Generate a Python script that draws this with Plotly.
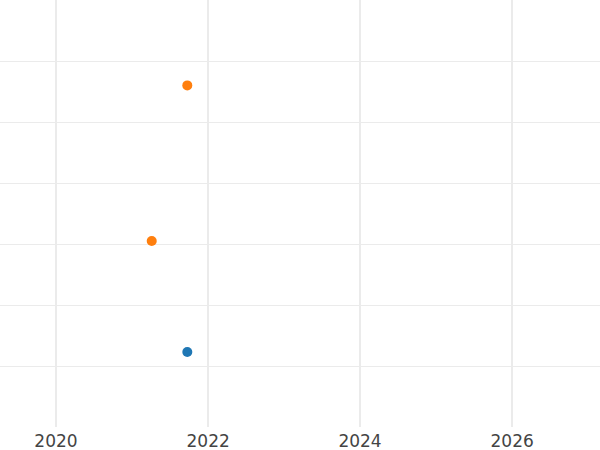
import plotly.graph_objects as go

# data
blue_dates = ['2021-09-23']
blue_values = [1.23]
orange_dates = ['2021-09-23', '2021-04-05']
orange_values = [5.60, 3.05]

x_range = ['2019-04-07', '2027-02-27']
y_range = [0, 7]

fig = go.Figure()
fig.add_trace(go.Scatter(x=blue_dates, y=blue_values, mode='markers',
                         marker=dict(size=10, color='#1f77b4'), name='blue'))
fig.add_trace(go.Scatter(x=orange_dates, y=orange_values, mode='markers',
                         marker=dict(size=10, color='#ff7f0e'), name='orange'))

fig.update_layout(
    width=600,
    height=450,
    margin=dict(l=0, r=0, t=0, b=23),
    plot_bgcolor='white',
    paper_bgcolor='white',
    showlegend=False,
    font=dict(family='DejaVu Sans', size=17, color='#444444'),
    xaxis=dict(
        type='date',
        range=x_range,
        dtick='M24',
        tick0='2020-01-01',
        tickformat='%Y',
        ticklabelstandoff=2,
        showgrid=True,
        gridcolor='#ebebeb',
        gridwidth=2,
        zeroline=False,
        showline=False,
        automargin=False,
    ),
    yaxis=dict(
        range=y_range,
        dtick=1,
        showgrid=True,
        gridcolor='#ebebeb',
        gridwidth=1,
        zeroline=False,
        showline=False,
        showticklabels=False,
        automargin=False,
    ),
)

# page has no body margin so the figure sits at the window corner
fig.write_html("out.html", config={'displayModeBar': False},
               post_script="document.body.style.margin='0';")
